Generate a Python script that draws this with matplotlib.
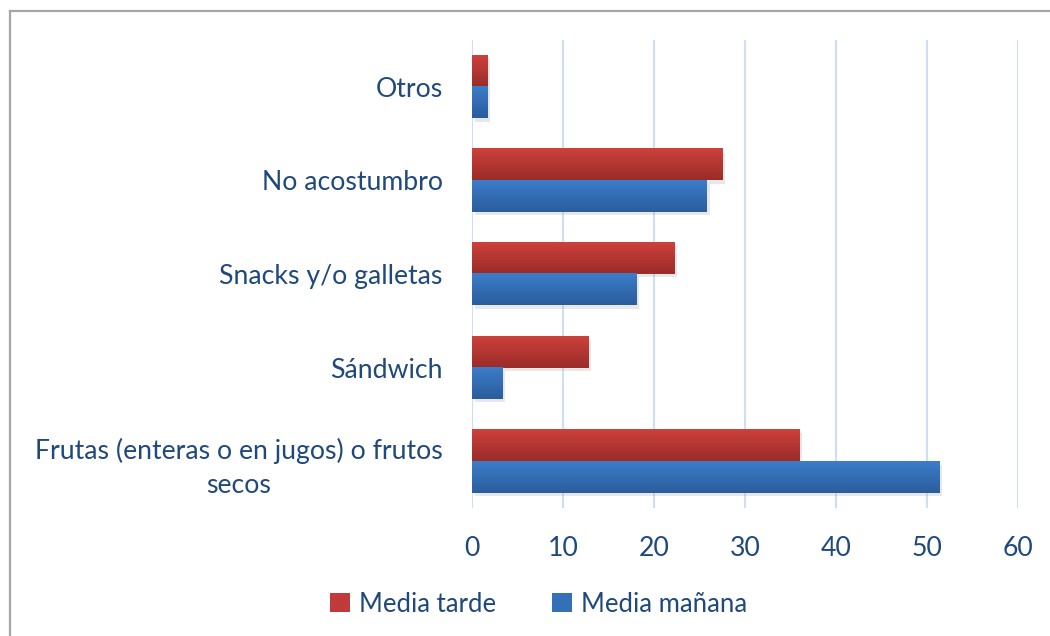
import matplotlib
matplotlib.use("Agg")
import matplotlib.pyplot as plt
import numpy as np
from matplotlib.patches import Patch
from matplotlib.lines import Line2D
from matplotlib.colors import LinearSegmentedColormap
import matplotlib.patheffects as pe

categories = ["Frutas (enteras o en jugos) o frutos\nsecos", "Sándwich", "Snacks y/o galletas", "No acostumbro", "Otros"]
media_tarde = [36.0, 12.8, 22.2, 27.5, 1.7]
media_manana = [51.4, 3.3, 18.1, 25.8, 1.7]
series_names = ["Media tarde", "Media mañana"]
xticks = [0, 10, 20, 30, 40, 50, 60]

plt.rcParams['font.family'] = ['Lato', 'DejaVu Sans']
txt_color = "#1F497D"

fig = plt.figure(figsize=(10.5, 6.36), dpi=100)
ax = fig.add_axes([0.4495, 0.2013, 0.52, 0.7357])

y = np.arange(len(categories))
h = 0.335
red_cmap = LinearSegmentedColormap.from_list("r", ["#CD413C", "#9B2C29"])
blue_cmap = LinearSegmentedColormap.from_list("b", ["#3C7DCA", "#2B5D9C"])

shadow = [pe.SimplePatchShadow(offset=(2, -2.5), shadow_rgbFace="#999999", alpha=0.22), pe.Normal()]
bars_r = ax.barh(y + h / 2, media_tarde, height=h, color="#C0393B", zorder=3, path_effects=shadow)
bars_b = ax.barh(y - h / 2, media_manana, height=h, color="#3470B8", zorder=3, path_effects=shadow)

grad = np.linspace(0, 1, 64).reshape(-1, 1)
for bars, cmap in ((bars_r, red_cmap), (bars_b, blue_cmap)):
    for p in bars:
        x0, y0 = p.get_x(), p.get_y()
        w, hh = p.get_width(), p.get_height()
        ax.imshow(grad, cmap=cmap, aspect="auto", extent=(x0, x0 + w, y0, y0 + hh),
                  origin="upper", zorder=4, interpolation="bilinear")

ax.set_xlim(0, 60)
ax.set_ylim(-0.5, len(categories) - 0.5)
ax.set_xticks(xticks)
ax.set_yticks(y)
ax.set_yticklabels(categories)
for lab in ax.get_yticklabels():
    lab.set_multialignment("center")
    lab.set_linespacing(1.45)
ax.tick_params(axis="both", length=0, labelsize=19.2, labelcolor=txt_color)
ax.tick_params(axis="y", pad=21)
ax.tick_params(axis="x", pad=20)
ax.xaxis.grid(True, color="#CFDEF2", linewidth=1.5, zorder=0)
ax.set_axisbelow(True)
for s in ax.spines.values():
    s.set_visible(False)

handles = [Patch(facecolor="#C0393B", label=series_names[0]),
           Patch(facecolor="#3470B8", label=series_names[1])]
fig.legend(handles=handles, loc="center", bbox_to_anchor=(0.513, 0.05), ncol=2, frameon=False,
           fontsize=18.5, labelcolor=txt_color, handlelength=0.75, handleheight=0.75,
           handletextpad=0.35, columnspacing=2.2)

fx, fy = 9.5 / 1050, 1 - 11 / 636
fig.lines.append(Line2D([fx, fx], [0, fy], transform=fig.transFigure, color="#A6A6A6", linewidth=1.6))
fig.lines.append(Line2D([fx, 1], [fy, fy], transform=fig.transFigure, color="#A6A6A6", linewidth=1.6))

fig.savefig("out.png", dpi=100)
